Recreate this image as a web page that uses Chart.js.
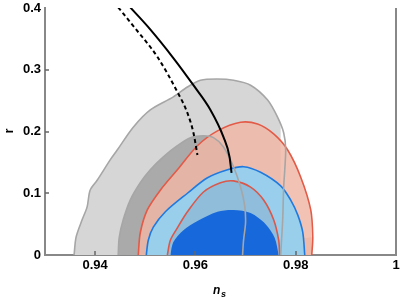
<!DOCTYPE html>
<html>
<head>
<meta charset="utf-8">
<script src="https://cdn.jsdelivr.net/npm/chart.js@4"></script>
<style>
  html, body { margin: 0; padding: 0; background: #fff; }
  #wrap { width: 400px; height: 300px; }
</style>
</head>
<body>
<div id="wrap"><canvas id="chart" width="400" height="300"></canvas></div>
<script>
// tick labels
const xTicks = [0.94, 0.96, 0.98, 1];
const yTicks = [0, 0.1, 0.2, 0.3, 0.4];

// grey contours (95% and 68%)
const grayOuterNs = [0.9358, 0.9362, 0.9374, 0.9384, 0.939, 0.9404, 0.943, 0.9444, 0.9476, 0.951, 0.9556, 0.9584, 0.961, 0.9644, 0.9676, 0.971, 0.9744, 0.9764, 0.9776, 0.978, 0.9776, 0.9774, 0.977];
const grayOuterR  = [0, 0.029, 0.057, 0.078, 0.105, 0.121, 0.154, 0.170, 0.207, 0.235, 0.256, 0.272, 0.283, 0.285, 0.283, 0.275, 0.251, 0.223, 0.198, 0.170, 0.110, 0.057, 0];
const grayInnerNs = [0.9446, 0.9448, 0.9456, 0.947, 0.949, 0.951, 0.9536, 0.9564, 0.959, 0.9616, 0.9636, 0.9656, 0.9676, 0.969, 0.9698, 0.97, 0.9696, 0.9694];
const grayInnerR  = [0, 0.028, 0.057, 0.089, 0.117, 0.138, 0.159, 0.177, 0.190, 0.193, 0.190, 0.175, 0.143, 0.110, 0.081, 0.053, 0.024, 0];

// red contours
const redOuterNs = [0.9486, 0.949, 0.9504, 0.953, 0.9564, 0.9604, 0.9644, 0.969, 0.9724, 0.9756, 0.9784, 0.981, 0.983, 0.9834, 0.9832];
const redOuterR  = [0, 0.036, 0.073, 0.105, 0.138, 0.177, 0.201, 0.215, 0.212, 0.196, 0.170, 0.126, 0.073, 0.029, 0];
const redInnerNs = [0.9544, 0.955, 0.9564, 0.9584, 0.9616, 0.965, 0.9676, 0.971, 0.9736, 0.9756, 0.9766, 0.9768];
const redInnerR  = [0, 0.024, 0.044, 0.070, 0.102, 0.117, 0.120, 0.110, 0.089, 0.057, 0.024, 0];

// blue contours
const blueOuterNs = [0.9502, 0.9506, 0.9516, 0.954, 0.9584, 0.9624, 0.9664, 0.9696, 0.973, 0.977, 0.979, 0.9804, 0.9814, 0.9818];
const blueOuterR  = [0, 0.024, 0.045, 0.070, 0.100, 0.125, 0.138, 0.143, 0.134, 0.112, 0.089, 0.065, 0.037, 0];
const blueInnerNs = [0.955, 0.9556, 0.9576, 0.9604, 0.9644, 0.9676, 0.971, 0.974, 0.9758, 0.9766];
const blueInnerR  = [0, 0.021, 0.040, 0.055, 0.070, 0.073, 0.068, 0.050, 0.028, 0];

// model predictions
const solidNs = [0.947, 0.9506, 0.9556, 0.9596, 0.963, 0.9656, 0.9668, 0.9672];
const solidR  = [0.401, 0.369, 0.319, 0.275, 0.235, 0.191, 0.159, 0.133];
const dashNs  = [0.9446, 0.9478, 0.9524, 0.9564, 0.9584, 0.9596, 0.9604];
const dashR   = [0.401, 0.369, 0.321, 0.264, 0.230, 0.198, 0.162];

const pts = (xs, ys) => xs.map((x, i) => ({ x: x, y: ys[i] }));

function area(xs, ys, color, order) {
  return { data: pts(xs, ys), fill: 'origin', backgroundColor: color, borderWidth: 0,
           pointRadius: 0, tension: 0.3, order: order };
}
function outline(xs, ys, color, order, extra) {
  return Object.assign({ data: pts(xs, ys), fill: false, borderColor: color, borderWidth: 1.6,
           pointRadius: 0, tension: 0.3, order: order }, extra || {});
}

const FONT = "'Liberation Sans', Arial, sans-serif";

// frame on the right, inward ticks and axis titles
const decor = {
  id: 'decor',
  afterDraw(chart) {
    const { ctx, chartArea: a, scales } = chart;
    ctx.save();
    ctx.strokeStyle = '#888';
    ctx.lineWidth = 2;
    ctx.beginPath();
    ctx.moveTo(a.right, a.top);
    ctx.lineTo(a.right, a.bottom + 1);
    ctx.stroke();
    ctx.lineWidth = 1.5;
    ctx.strokeStyle = '#666';
    xTicks.forEach(v => {
      const px = Math.round(scales.x.getPixelForValue(v));
      if (px >= a.right - 1) return;
      ctx.beginPath(); ctx.moveTo(px, a.bottom); ctx.lineTo(px, a.bottom - 4); ctx.stroke();
    });
    yTicks.forEach(v => {
      const py = Math.round(scales.y.getPixelForValue(v));
      if (py >= a.bottom - 1 || py <= a.top + 1) return;
      ctx.beginPath(); ctx.moveTo(a.left, py); ctx.lineTo(a.left + 4, py); ctx.stroke();
    });
    ctx.fillStyle = '#000';
    ctx.textAlign = 'left';
    ctx.textBaseline = 'alphabetic';
    ctx.font = 'italic bold 12px ' + FONT;
    ctx.fillText('n', 213, 294);
    ctx.font = 'italic bold 9px ' + FONT;
    ctx.fillText('s', 221, 297);
    ctx.translate(13, 131);
    ctx.rotate(-Math.PI / 2);
    ctx.textAlign = 'center';
    ctx.font = 'bold 13px ' + FONT;
    ctx.fillText('r', 0, 0);
    ctx.restore();
  }
};

new Chart(document.getElementById('chart').getContext('2d'), {
  type: 'line',
  data: {
    datasets: [
      area(grayOuterNs, grayOuterR, '#d6d6d6', 20),
      area(grayInnerNs, grayInnerR, '#aaaaaa', 19),
      area(redOuterNs, redOuterR, 'rgba(240,184,166,0.84)', 18),
      outline(redOuterNs, redOuterR, '#e35a47', 17),
      area(blueOuterNs, blueOuterR, 'rgba(150,208,237,0.97)', 16),
      outline(blueOuterNs, blueOuterR, '#1f7ae0', 15),
      area(redInnerNs, redInnerR, 'rgba(124,150,179,0.3)', 14),
      outline(redInnerNs, redInnerR, '#d9584b', 13),
      area(blueInnerNs, blueInnerR, '#1768da', 12),
      outline(grayOuterNs, grayOuterR, '#a6a6a6', 11),
      outline(grayInnerNs, grayInnerR, '#a6a6a6', 10),
      outline(dashNs, dashR, '#000', 2, { borderWidth: 2, borderDash: [4, 3], cubicInterpolationMode: 'monotone' }),
      outline(solidNs, solidR, '#000', 1, { borderWidth: 2, cubicInterpolationMode: 'monotone' })
    ]
  },
  options: {
    responsive: false,
    animation: false,
    layout: { padding: { left: 0, right: 4, top: 8, bottom: 0 } },
    plugins: { legend: { display: false }, tooltip: { enabled: false } },
    scales: {
      x: {
        type: 'linear', min: 0.93, max: 1.0,
        grid: { display: false, drawTicks: false },
        border: { display: true, color: '#888', width: 2 },
        afterBuildTicks: s => { s.ticks = xTicks.map(v => ({ value: v })); },
        afterFit: s => { s.height = 45; s.paddingLeft = 0; s.paddingRight = 0; },
        ticks: {
          padding: 3, color: '#000', maxRotation: 0, autoSkip: false,
          font: { family: FONT, size: 13, weight: 'bold' },
          callback: v => (v === 1 ? '1' : v.toFixed(2))
        }
      },
      y: {
        type: 'linear', min: 0, max: 0.4,
        grid: { display: false, drawTicks: false },
        border: { display: true, color: '#888', width: 2 },
        afterBuildTicks: s => { s.ticks = yTicks.map(v => ({ value: v })); },
        afterFit: s => { s.width = 45; s.paddingTop = 0; s.paddingBottom = 0; },
        ticks: {
          padding: 4, color: '#000', autoSkip: false,
          font: { family: FONT, size: 13, weight: 'bold' },
          callback: v => (v === 0 ? '0' : String(Math.round(v * 10) / 10))
        }
      }
    }
  },
  plugins: [decor]
});
</script>
</body>
</html>
